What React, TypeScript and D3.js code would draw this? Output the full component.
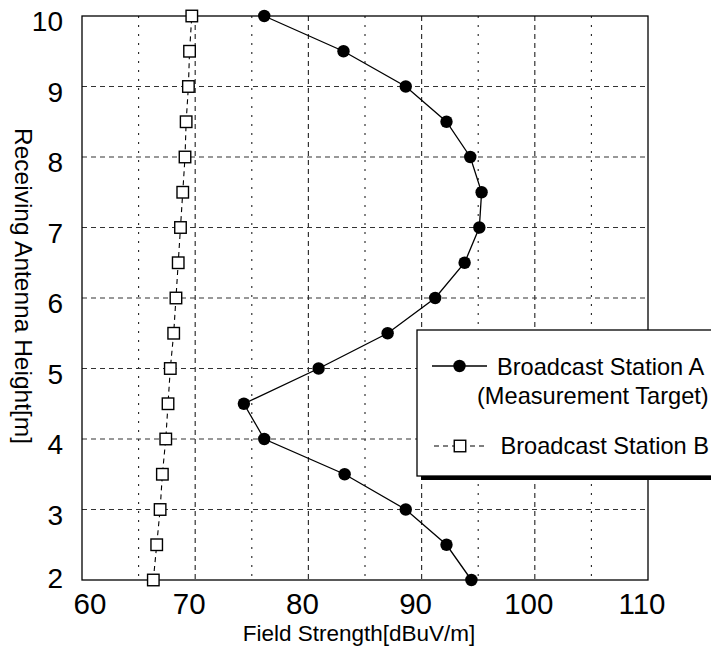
import React from "react";
import * as d3 from "d3";

const heights = [2, 2.5, 3, 3.5, 4, 4.5, 5, 5.5, 6, 6.5, 7, 7.5, 8, 8.5, 9, 9.5, 10];
const stationA = [94.4, 92.2, 88.6, 83.2, 76.1, 74.3, 80.9, 87.0, 91.2, 93.8, 95.1, 95.3, 94.3, 92.2, 88.6, 83.1, 76.1];
const stationB = [66.3, 66.6, 66.9, 67.1, 67.4, 67.6, 67.8, 68.1, 68.3, 68.5, 68.7, 68.9, 69.1, 69.2, 69.4, 69.5, 69.7];
const xMajorTicks = [60, 70, 80, 90, 100, 110];
const xMinorTicks = [65, 75, 85, 95, 105];
const yTicks = [2, 3, 4, 5, 6, 7, 8, 9, 10];
const seriesNames = ["Broadcast Station A", "(Measurement Target)", "Broadcast Station B"];
const xTitle = "Field Strength[dBuV/m]";
const yTitle = "Receiving Antenna Height[m]";

const W = 711, H = 652;
const L = 82, R = 648, T = 16, B = 580;
const FONT = "'Liberation Sans', Arial, Helvetica, sans-serif";

export default function App() {
  if (typeof document !== "undefined") document.body.style.margin = "0";
  const x = d3.scaleLinear().domain([60, 110]).range([L, R]);
  const y = d3.scaleLinear().domain([2, 10]).range([B, T]);
  const ptsA = heights.map((h, i) => [x(stationA[i]), y(h)] as [number, number]);
  const ptsB = heights.map((h, i) => [x(stationB[i]), y(h)] as [number, number]);
  const line = d3.line();
  const sq = 11.5;

  const lgX = 417, lgY = 330, lgH = 146;

  return (
    <svg width={W} height={H} style={{ display: "block" }} fontFamily={FONT}>
      <rect width={W} height={H} fill="#fff" />
      {/* grid */}
      {xMinorTicks.map((t) => (
        <line key={"mn" + t} x1={x(t)} x2={x(t)} y1={T} y2={B} stroke="#222" strokeWidth={1.1} strokeDasharray="2,7" />
      ))}
      {xMajorTicks.slice(1, -1).map((t) => (
        <line key={"mj" + t} x1={x(t)} x2={x(t)} y1={T} y2={B} stroke="#333" strokeWidth={1.2} strokeDasharray="5,4" />
      ))}
      {yTicks.slice(1, -1).map((t) => (
        <line key={"yg" + t} x1={L} x2={R} y1={y(t)} y2={y(t)} stroke="#333" strokeWidth={1.2} strokeDasharray="5,4" />
      ))}
      {/* frame */}
      <rect x={L} y={T} width={R - L} height={B - T} fill="none" stroke="#000" strokeWidth={1.3} />
      {/* series B */}
      <path d={line(ptsB) || ""} fill="none" stroke="#000" strokeWidth={1.1} strokeDasharray="5,4" />
      {ptsB.map(([px, py], i) => (
        <rect key={"b" + i} x={px - sq / 2} y={py - sq / 2} width={sq} height={sq} fill="#fff" stroke="#000" strokeWidth={1.4} />
      ))}
      {/* series A */}
      <path d={line(ptsA) || ""} fill="none" stroke="#000" strokeWidth={1.3} />
      {ptsA.map(([px, py], i) => (
        <circle key={"a" + i} cx={px} cy={py} r={6.2} fill="#000" />
      ))}
      {/* y tick labels */}
      {yTicks.map((t, i) => (
        <text key={"yl" + t} x={63} y={y(t) + (i === 0 ? 8 : 15)} textAnchor="end" fontSize={28} fill="#000">
          {t}
        </text>
      ))}
      {/* x tick labels */}
      {xMajorTicks.map((t, i) => (
        <text key={"xl" + t} x={x(t) + (i === 0 ? 8 : -6)} y={614} textAnchor="middle" fontSize={29.5} fill="#000">
          {t}
        </text>
      ))}
      {/* axis titles */}
      <text x={359} y={641} textAnchor="middle" fontSize={22.5} fill="#000">
        {xTitle}
      </text>
      <text transform={`translate(15,${286}) rotate(90)`} textAnchor="middle" fontSize={24.5} fill="#000">
        {yTitle}
      </text>
      {/* legend */}
      <rect x={lgX + 4} y={lgY + 4} width={320} height={lgH} fill="#000" />
      <rect x={lgX} y={lgY} width={320} height={lgH} fill="#fff" stroke="#000" strokeWidth={1.3} />
      <line x1={432} x2={487} y1={366} y2={366} stroke="#000" strokeWidth={1.3} />
      <circle cx={459.5} cy={366} r={6.2} fill="#000" />
      <text x={497} y={375} fontSize={23.6} fill="#000">{seriesNames[0]}</text>
      <text x={477} y={403.5} fontSize={23.6} fill="#000">{seriesNames[1]}</text>
      <line x1={434} x2={488} y1={446} y2={446} stroke="#000" strokeWidth={1.1} strokeDasharray="5,4" />
      <rect x={460 - sq / 2} y={446 - sq / 2} width={sq} height={sq} fill="#fff" stroke="#000" strokeWidth={1.4} />
      <text x={500.5} y={454} fontSize={23.6} fill="#000">{seriesNames[2]}</text>
    </svg>
  );
}
